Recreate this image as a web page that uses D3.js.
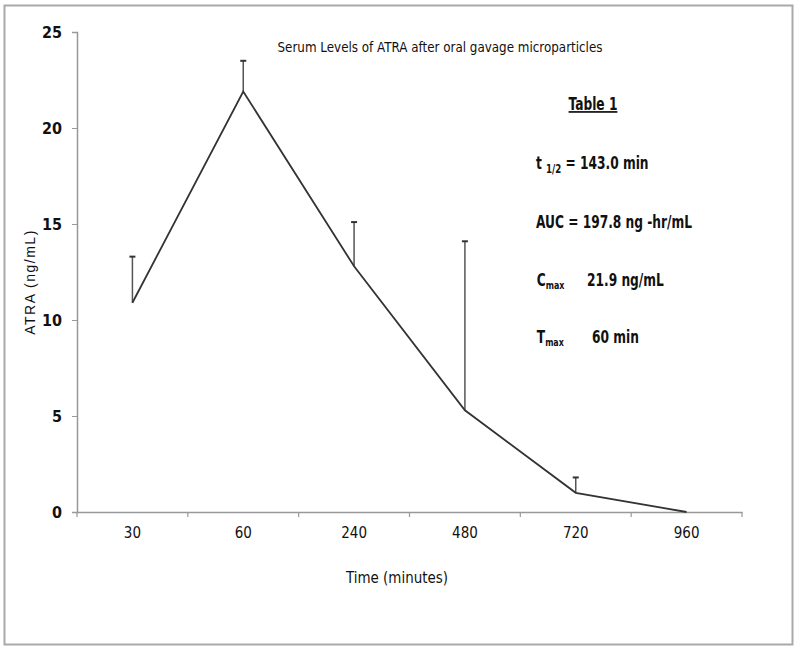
<!DOCTYPE html>
<html>
<head>
<meta charset="utf-8">
<script src="https://cdn.jsdelivr.net/npm/d3@7"></script>
<style>
  body { margin: 0; background: #fff; }
  text { fill: #111; }
  .narrow { font-family: "Liberation Sans Narrow", "DejaVu Sans Condensed", sans-serif; }
</style>
</head>
<body>
<div class="canvas"></div>
<script>
const width = 800;
const height = 652;

// chart data
const times = ["30", "60", "240", "480", "720", "960"];
const atra = [10.9, 21.9, 12.8, 5.3, 1.0, 0];
const errUpper = [13.3, 23.5, 15.1, 14.1, 1.8, 0];
const yTicks = [0, 5, 10, 15, 20, 25];

const titleText = "Serum Levels of ATRA after oral gavage microparticles";

const svg = d3.select(".canvas")
  .append("svg")
  .attr("width", width)
  .attr("height", height);

// outer frame
svg.append("rect")
  .attr("x", 4.5)
  .attr("y", 5.5)
  .attr("width", 788)
  .attr("height", 639)
  .attr("fill", "none")
  .attr("stroke", "#a9a9a9")
  .attr("stroke-width", 2);

// setup margins and dimensions
const margin = { top: 32, left: 77, right: 58, bottom: 140 };
const graphWidth = width - margin.left - margin.right;
const graphHeight = height - margin.top - margin.bottom;

const graph = svg.append("g")
  .attr("transform", `translate(${margin.left}, ${margin.top})`);

const xScale = d3.scaleBand()
  .domain(times)
  .range([0, graphWidth]);

const yScale = d3.scaleLinear()
  .domain([0, 25])
  .range([graphHeight, 0]);

// x axis
const xAxis = d3.axisBottom(xScale).tickSize(0).tickPadding(15);
const gx = graph.append("g")
  .attr("transform", `translate(0, ${graphHeight})`)
  .call(xAxis);
gx.select(".domain").attr("stroke", "#999").attr("stroke-width", 1.5);
gx.selectAll("text")
  .attr("class", "narrow")
  .style("font-size", "15px")
  .attr("fill", "#111");

// tick marks between categories
const bounds = times.map(t => xScale(t)).concat([graphWidth]);
gx.selectAll(".sep")
  .data(bounds)
  .enter()
  .append("line")
  .attr("x1", d => d)
  .attr("x2", d => d)
  .attr("y1", 0)
  .attr("y2", 5)
  .attr("stroke", "#999")
  .attr("stroke-width", 1.2);

// y axis
const yAxis = d3.axisLeft(yScale).tickValues(yTicks).tickSize(5).tickPadding(10);
const gy = graph.append("g").call(yAxis);
gy.select(".domain").attr("stroke", "#999").attr("stroke-width", 1.5);
gy.selectAll(".tick line").attr("stroke", "#999");
gy.selectAll("text")
  .attr("class", "narrow")
  .style("font-size", "16px")
  .style("font-weight", "bold")
  .attr("fill", "#111");

const cx = d => xScale(d) + xScale.bandwidth() / 2;

// error bars (upper only)
const errs = graph.append("g");
times.forEach((t, i) => {
  if (errUpper[i] <= atra[i]) return;
  errs.append("line")
    .attr("x1", cx(t)).attr("x2", cx(t))
    .attr("y1", yScale(atra[i])).attr("y2", yScale(errUpper[i]))
    .attr("stroke", "#555").attr("stroke-width", 1.5);
  errs.append("line")
    .attr("x1", cx(t) - 3).attr("x2", cx(t) + 3)
    .attr("y1", yScale(errUpper[i])).attr("y2", yScale(errUpper[i]))
    .attr("stroke", "#333").attr("stroke-width", 2);
});

// the line
const line = d3.line()
  .x((d, i) => cx(times[i]))
  .y(d => yScale(d));

graph.append("path")
  .datum(atra)
  .attr("d", line)
  .attr("fill", "none")
  .attr("stroke", "#333")
  .attr("stroke-width", 1.8);

// title
svg.append("text")
  .attr("class", "narrow")
  .attr("x", 440)
  .attr("y", 52)
  .attr("text-anchor", "middle")
  .style("font-size", "14px")
  .attr("textLength", 325)
  .attr("lengthAdjust", "spacingAndGlyphs")
  .text(titleText);

// axis titles
svg.append("text")
  .attr("class", "narrow")
  .attr("x", 397)
  .attr("y", 583)
  .attr("text-anchor", "middle")
  .style("font-size", "16px")
  .attr("textLength", 102)
  .attr("lengthAdjust", "spacingAndGlyphs")
  .text("Time (minutes)");

svg.append("text")
  .attr("transform", "translate(35, 282) rotate(-90)")
  .attr("text-anchor", "middle")
  .style("font-family", "Liberation Sans, Arial, sans-serif")
  .style("font-size", "14px")
  .style("letter-spacing", "1.5px")
  .text("ATRA  (ng/mL)");

// table annotation, squeezed horizontally to mimic a condensed face
const nx = 536;
const note = svg.append("g")
  .attr("class", "narrow")
  .attr("transform", `translate(${nx}, 0) scale(0.8, 1) translate(${-nx}, 0)`)
  .style("font-size", "17px")
  .style("font-weight", "bold");

note.append("text")
  .attr("x", nx + 57 / 0.8).attr("y", 110)
  .attr("text-anchor", "middle")
  .style("text-decoration", "underline")
  .text("Table 1");

const t1 = note.append("text").attr("x", nx).attr("y", 169);
t1.append("tspan").text("t ");
t1.append("tspan").attr("dy", 4).style("font-size", "12px").text("1/2");
t1.append("tspan").attr("dy", -4).text(" = 143.0 min");

note.append("text").attr("x", nx).attr("y", 228).text("AUC = 197.8 ng -hr/mL");

const c1 = note.append("text").attr("x", nx + 1).attr("y", 286);
c1.append("tspan").text("C");
c1.append("tspan").attr("dy", 3).style("font-size", "11px").text("max");
c1.append("tspan").attr("dy", -3).attr("x", nx + 51 / 0.8).text("21.9 ng/mL");

const c2 = note.append("text").attr("x", nx + 1).attr("y", 343);
c2.append("tspan").text("T");
c2.append("tspan").attr("dy", 3).style("font-size", "11px").text("max");
c2.append("tspan").attr("dy", -3).attr("x", nx + 56 / 0.8).text("60 min");
</script>
</body>
</html>
